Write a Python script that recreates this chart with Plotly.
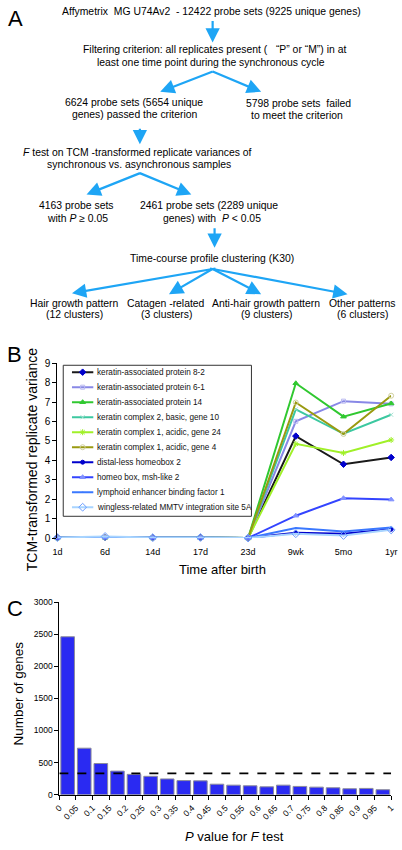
import plotly.graph_objects as go

W, H = 402, 850
FONT = "Liberation Sans, Arial, sans-serif"

# ---------------- Panel B data ----------------
time_labels = ["1d", "6d", "14d", "17d", "23d", "9wk", "5mo", "1yr"]
series_names = [
    "keratin-associated protein 8-2",
    "keratin-associated protein 6-1",
    "keratin-associated protein 14",
    "keratin complex 2, basic, gene 10",
    "keratin complex 1, acidic, gene 24",
    "keratin complex 1, acidic, gene 4",
    "distal-less homeobox 2",
    "homeo box, msh-like 2",
    "lymphoid enhancer binding factor 1",
    "wingless-related MMTV integration site 5A",
]
krtap8_2 = [0.02, 0.03, 0.01, 0.01, 0.0, 5.25, 3.80, 4.15]
krtap6_1 = [0.02, 0.04, 0.01, 0.02, 0.0, 6.01, 7.05, 6.91]
krtap14 = [0.01, 0.02, 0.01, 0.01, 0.0, 7.97, 6.25, 6.93]
krt2_10 = [0.02, 0.03, 0.01, 0.01, 0.0, 6.63, 5.37, 6.35]
krt1_24 = [0.01, 0.02, 0.01, 0.01, 0.0, 4.85, 4.38, 5.05]
krt1_4 = [0.02, 0.03, 0.01, 0.01, 0.0, 6.98, 5.36, 7.33]
dlx2 = [0.01, 0.02, 0.01, 0.01, 0.0, 0.27, 0.22, 0.45]
msx2 = [0.01, 0.03, 0.01, 0.01, 0.0, 1.15, 2.05, 1.98]
lef1 = [0.01, 0.02, 0.01, 0.01, 0.0, 0.51, 0.34, 0.54]
wnt5a = [0.02, 0.08, 0.02, 0.03, 0.0, 0.22, 0.13, 0.42]
series_values = [krtap8_2, krtap6_1, krtap14, krt2_10, krt1_24, krt1_4, dlx2, msx2, lef1, wnt5a]

line_colors = ["#1a1a1a", "#8888e6", "#30c830", "#3cc8a0", "#a0f028",
               "#9a9a10", "#0000cc", "#3344ff", "#3a78ff", "#a8d4ff"]
marker_colors = ["#0000cc", "#b8b8f0", "#30c830", "#a0e0d0", "#a0f028",
                 "#d0d0a0", "#0000cc", "#8090ff", "#3a78ff", "#6a9cff"]
marker_symbols = ["diamond", "square-open", "triangle-up", "x-thin", "asterisk",
                  "circle-open", "circle", "triangle-up", "line-ew", "diamond-open"]
marker_sizes = [5, 4, 5, 4, 5, 5, 4, 5, 1, 6]

# ---------------- Panel C data ----------------
bin_left = [i * 0.05 for i in range(20)]
bin_counts = [2461, 724, 485, 367, 316, 286, 245, 219, 215, 163,
              148, 138, 122, 148, 128, 117, 107, 92, 97, 77]
uniform_level = 331
c_tick_vals = [round(i * 0.05, 2) for i in range(21)]
c_tick_text = ["0", "0.05", "0.1", "0.15", "0.2", "0.25", "0.3", "0.35", "0.4", "0.45",
               "0.5", "0.55", "0.6", "0.65", "0.7", "0.75", "0.8", "0.85", "0.9", "0.95", "1"]

# ---------------- Panel A content ----------------
flow_texts = [
    (212, 7, "Affymetrix\u00a0 MG U74Av2\u00a0 - 12422 probe sets (9225 unique genes)"),
    (215, 45, "Filtering criterion: all replicates present (\u00a0\u00a0 “P” or “M”) in at"),
    (211, 58, "least one time point during the synchronous cycle"),
    (132, 99, "6624 probe sets (5654 unique"),
    (133, 111, "genes) passed the criterion"),
    (301, 100, "5798 probe sets\u00a0 failed"),
    (300, 112, "to meet the criterion"),
    (136, 149, "<i>F</i> test on TCM -transformed replicate variances of"),
    (137, 162, "synchronous vs. asynchronous samples"),
    (73, 203, "4163 probe sets"),
    (74, 216, "with <i>P</i> ≥ 0.05"),
    (209, 203, "2461 probe sets (2289 unique"),
    (212, 216, "genes) with\u00a0 <i>P</i> &lt; 0.05"),
    (212, 257, "Time-course profile clustering (K30)"),
    (71, 302, "Hair growth pattern"), (71, 314, "(12 clusters)"),
    (165, 302, "Catagen -related"), (165, 314, "(3 clusters)"),
    (268, 302, "Anti-hair growth pattern"), (268, 314, "(9 clusters)"),
    (367, 302, "Other patterns"), (367, 314, "(6 clusters)"),
]
# arrows: (tail_x, tail_y, head_x, head_y) in pixels
flow_arrows = [
    (213, 15, 213, 38),
    (213, 67, 159, 88), (213, 67, 263, 88),
    (138, 124, 138, 141),
    (138, 170, 83, 192), (138, 170, 191, 192),
    (215, 225, 215, 246),
    (213, 267, 68, 292), (213, 267, 168, 293), (213, 267, 263, 293), (213, 267, 352, 293),
]


def px(x):
    return x / W


def py(y):
    return 1 - y / H


fig = go.Figure()

# Panel B lines
for name, vals, lc, mc, ms, sz in zip(series_names, series_values, line_colors,
                                      marker_colors, marker_symbols, marker_sizes):
    fig.add_trace(go.Scatter(
        x=time_labels, y=vals, name=name, mode="lines+markers",
        line=dict(color=lc, width=2),
        marker=dict(symbol=ms, size=sz, color=mc, line=dict(color=mc, width=1)),
        cliponaxis=False, showlegend=False, xaxis="x", yaxis="y"))

# Manual legend (inside box axis x3/y3, pixel-like units)
LEG_X0, LEG_X1, LEG_Y0, LEG_Y1 = 59, 253, 365, 518
for i, (name, lc, mc, ms, sz) in enumerate(zip(series_names, line_colors, marker_colors,
                                              marker_symbols, marker_sizes)):
    ry = 7 + 15.2 * i
    fig.add_trace(go.Scatter(
        x=[9, 31], y=[ry, ry], mode="lines", line=dict(color=lc, width=2),
        showlegend=False, hoverinfo="skip", xaxis="x3", yaxis="y3", cliponaxis=False))
    fig.add_trace(go.Scatter(
        x=[20], y=[ry], mode="markers",
        marker=dict(symbol=ms, size=sz, color=mc, line=dict(color=mc, width=1)),
        showlegend=False, hoverinfo="skip", xaxis="x3", yaxis="y3", cliponaxis=False))
    fig.add_annotation(x=33, y=ry, xref="x3", yref="y3", text=name, showarrow=False,
                       xanchor="left", yanchor="middle",
                       font=dict(family=FONT, size=8.2, color="#111"))

# Panel C bars
fig.add_trace(go.Bar(
    x=[b + 0.025 for b in bin_left], y=bin_counts, width=0.041,
    marker=dict(color="#2a2af2", line=dict(color="#8c8c9c", width=1)),
    showlegend=False, xaxis="x2", yaxis="y2"))
fig.add_trace(go.Scatter(
    x=[0, 1], y=[uniform_level, uniform_level], mode="lines",
    line=dict(color="black", width=1.6, dash="dash"),
    showlegend=False, xaxis="x2", yaxis="y2", cliponaxis=False))

fig.update_layout(
    width=W, height=H, margin=dict(l=0, r=0, t=0, b=0),
    paper_bgcolor="white", plot_bgcolor="rgba(0,0,0,0)",
    font=dict(family=FONT, color="black"),
    xaxis=dict(domain=[px(53), px(397)], type="category", range=[0, 7],
               showline=False, ticks="", ticklabelstandoff=7,
               tickfont=dict(family=FONT, size=9, color="black"),
               showgrid=False, zeroline=False, anchor="y"),
    yaxis=dict(domain=[py(540), py(363)], range=[0, 9], dtick=1, showline=True,
               ticks="outside", ticklen=4, tickfont=dict(family=FONT, size=10, color="black"),
               linecolor="black", tickcolor="black", showgrid=False, zeroline=False,
               anchor="x"),
    xaxis2=dict(domain=[px(55), px(397)], range=[0, 1], tickvals=c_tick_vals,
                ticktext=c_tick_text, tickangle=-45, showline=True, ticks="outside",
                ticklen=4, tickfont=dict(family=FONT, size=8.5, color="black"),
                linecolor="black", tickcolor="black", showgrid=False, zeroline=False,
                anchor="y2"),
    yaxis2=dict(domain=[py(800), py(605)], range=[0, 3000], dtick=500, showline=True,
                ticks="outside", ticklen=4, tickfont=dict(family=FONT, size=8.5, color="black"),
                linecolor="black", tickcolor="black", showgrid=False, zeroline=False,
                anchor="x2"),
    xaxis3=dict(domain=[px(LEG_X0), px(LEG_X1)], range=[0, LEG_X1 - LEG_X0], visible=False,
                anchor="y3", fixedrange=True),
    yaxis3=dict(domain=[py(LEG_Y1), py(LEG_Y0)], range=[LEG_Y1 - LEG_Y0, 0], visible=False,
                anchor="x3", fixedrange=True),
    bargap=0,
)

# legend box
fig.add_shape(type="rect", xref="paper", yref="paper",
              x0=px(LEG_X0), x1=px(LEG_X1), y0=py(LEG_Y1), y1=py(LEG_Y0),
              line=dict(color="#333", width=1), fillcolor="white", layer="below")

# Panel A texts
for x, y, t in flow_texts:
    fig.add_annotation(x=px(x), y=py(y), xref="paper", yref="paper", text=t,
                       showarrow=False, xanchor="center", yanchor="middle",
                       font=dict(family=FONT, size=10.4, color="black"))
for tx, ty, hx, hy in flow_arrows:
    fig.add_annotation(x=px(hx), y=py(hy), xref="paper", yref="paper", text="",
                       showarrow=True, ax=tx - hx, ay=ty - hy, axref="pixel", ayref="pixel",
                       arrowhead=2, arrowsize=1.3, arrowwidth=2.2, arrowcolor="#1ea5f5",
                       standoff=0, startstandoff=0)

# Panel letters
for x, y, t in [(10, 14, "A"), (9, 354, "B"), (9, 611, "C")]:
    fig.add_annotation(x=px(x), y=py(y), xref="paper", yref="paper", text=t,
                       showarrow=False, xanchor="center", yanchor="middle",
                       font=dict(family=FONT, size=22, color="black"))

# Axis titles
fig.add_annotation(x=px(27), y=py(460), xref="paper", yref="paper",
                   text="TCM-transformed replicate variance", textangle=-90,
                   showarrow=False, xanchor="center", yanchor="middle",
                   font=dict(family=FONT, size=14, color="black"))
fig.add_annotation(x=px(223), y=py(572), xref="paper", yref="paper",
                   text="Time after birth", showarrow=False,
                   xanchor="center", yanchor="middle",
                   font=dict(family=FONT, size=13, color="black"))
fig.add_annotation(x=px(13), y=py(698), xref="paper", yref="paper",
                   text="Number of genes", textangle=-90, showarrow=False,
                   xanchor="center", yanchor="middle",
                   font=dict(family=FONT, size=13.5, color="black"))
fig.add_annotation(x=px(236), y=py(842), xref="paper", yref="paper",
                   text="<i>P</i> value for <i>F</i> test", showarrow=False,
                   xanchor="center", yanchor="middle",
                   font=dict(family=FONT, size=13, color="black"))

fig.write_html("out.html",
               config={"displayModeBar": False, "staticPlot": True},
               post_script="document.body.style.margin='0';document.body.style.overflow='hidden';")
